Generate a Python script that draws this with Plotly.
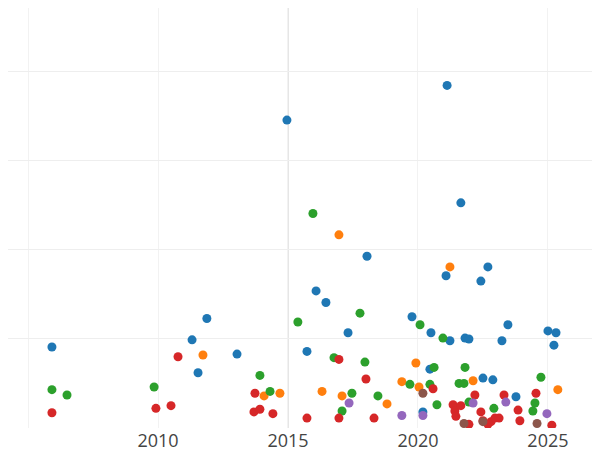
import plotly.graph_objects as go

blue_x = [2005.92, 2011.31, 2011.88, 2011.54, 2013.04, 2014.96, 2015.73, 2016.08, 2016.46, 2017.31,
          2018.04, 2019.77, 2020.5, 2020.46, 2020.19, 2021.12, 2021.08, 2021.23, 2021.65, 2021.81,
          2021.96, 2022.42, 2022.69, 2022.5, 2022.88, 2023.23, 2023.46, 2023.77, 2025.0, 2025.31, 2025.23]
blue_y = [0.90, 0.98, 1.22, 0.61, 0.82, 3.45, 0.85, 1.53, 1.40, 1.06,
          1.92, 1.24, 1.06, 0.65, 0.17, 3.84, 1.70, 0.97, 2.52, 1.00,
          0.99, 1.64, 1.80, 0.55, 0.53, 0.97, 1.15, 0.34, 1.08, 1.06, 0.92]

orange_x = [2011.73, 2016.96, 2016.31, 2017.08, 2014.08, 2014.69, 2018.81, 2019.38, 2019.92, 2020.04,
            2021.23, 2022.12, 2025.38]
orange_y = [0.81, 2.16, 0.40, 0.35, 0.35, 0.38, 0.26, 0.51, 0.72, 0.45, 1.80, 0.52, 0.42]

green_x = [2005.92, 2006.5, 2009.85, 2013.92, 2014.31, 2015.38, 2015.96, 2016.77, 2017.08, 2017.46,
           2017.77, 2017.96, 2018.46, 2019.69, 2020.08, 2020.46, 2020.62, 2020.73, 2020.96, 2021.58,
           2021.77, 2021.81, 2021.96, 2022.92, 2024.42, 2024.5, 2024.73]
green_y = [0.42, 0.36, 0.45, 0.58, 0.40, 1.18, 2.40, 0.78, 0.18, 0.38,
           1.28, 0.73, 0.35, 0.48, 1.15, 0.48, 0.67, 0.25, 1.00, 0.49,
           0.49, 0.67, 0.28, 0.21, 0.18, 0.27, 0.56]

red_x = [2005.92, 2009.92, 2010.5, 2010.77, 2013.73, 2013.69, 2013.92, 2014.42, 2015.73, 2016.96,
         2016.96, 2018.0, 2018.31, 2020.58, 2021.35, 2021.42, 2021.46, 2021.65, 2021.96,
         2022.19, 2022.42, 2022.5, 2022.69, 2022.81, 2022.96, 2023.12, 2023.31, 2023.85, 2023.92,
         2024.54, 2025.15]
red_y = [0.16, 0.21, 0.24, 0.79, 0.38, 0.17, 0.20, 0.15, 0.10, 0.76,
         0.10, 0.54, 0.10, 0.43, 0.25, 0.18, 0.12, 0.24, 0.03,
         0.36, 0.17, 0.07, 0.03, 0.06, 0.10, 0.10, 0.36, 0.19, 0.07,
         0.38, 0.02]

purple_x = [2017.35, 2019.38, 2020.19, 2022.12, 2023.38, 2024.96]
purple_y = [0.27, 0.13, 0.13, 0.27, 0.28, 0.15]

brown_x = [2020.19, 2021.77, 2022.5, 2024.58]
brown_y = [0.38, 0.04, 0.06, 0.04]

series = [
    (blue_x, blue_y, "#1f77b4"),
    (orange_x, orange_y, "#ff7f0e"),
    (green_x, green_y, "#2ca02c"),
    (red_x, red_y, "#d62728"),
    (purple_x, purple_y, "#9467bd"),
    (brown_x, brown_y, "#8c564b"),
]

fig = go.Figure()
for xs, ys, col in series:
    fig.add_trace(go.Scatter(x=xs, y=ys, mode="markers",
                             marker=dict(color=col, size=9), showlegend=False))

# darker vertical line at 2015
fig.add_vline(x=2015, line_color="#e6e6e6", line_width=2, layer="below")

fig.update_layout(
    width=600, height=450,
    margin=dict(l=0, r=0, t=0, b=30),
    plot_bgcolor="white", paper_bgcolor="white",
    xaxis=dict(range=[2004.23, 2027.31], tickvals=[2005, 2010, 2015, 2020, 2025],
               showgrid=True, gridcolor="#f2f2f2", zeroline=False,
               tickfont=dict(family="Open Sans", size=18, color="#444")),
    yaxis=dict(range=[-0.011, 4.71], tickvals=[0, 1, 2, 3, 4], showticklabels=False,
               showgrid=True, gridcolor="#eeeeee", zeroline=False),
)

fig.write_html("out.html")
